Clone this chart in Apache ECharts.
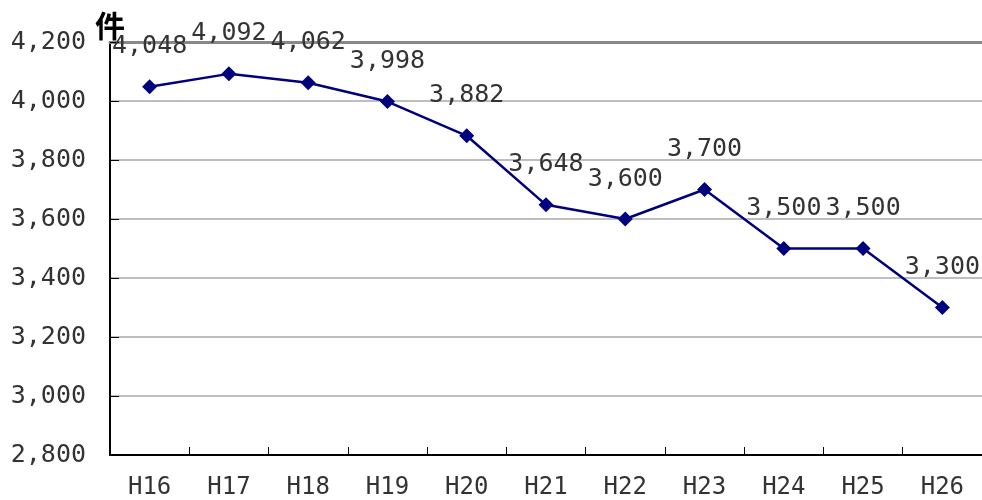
<!DOCTYPE html>
<html lang="ja">
<head>
<meta charset="UTF-8">
<title>件数推移</title>
<style>
    *{margin:0;padding:0;}
    body{background:#fff;}
    #main{width:982px;height:500px;}
</style>
</head>
<body>
<div id="main"></div>
<script src="https://cdn.jsdelivr.net/npm/echarts@6/dist/echarts.min.js"></script>
<script>
var years = ['H16','H17','H18','H19','H20','H21','H22','H23','H24','H25','H26'];
var counts = [4048,4092,4062,3998,3882,3648,3600,3700,3500,3500,3300];
var yMin = 2800;
var yMax = 4200;
var yStep = 200;

var monoFont = '"DejaVu Sans Mono", monospace';

function fmt(v){
    return String(v).replace(/\B(?=(\d{3})+(?!\d))/g, ',');
}

var myChart = echarts.init(document.getElementById('main'));
var option = {
    animation:false,
    grid:{left:110,right:0,top:42,bottom:45},
    xAxis:[{
        type:'category',
        data:years,
        boundaryGap:true,
        axisLine:{lineStyle:{color:'#000',width:2}},
        axisTick:{show:true,inside:true,length:8,alignWithLabel:false,lineStyle:{color:'#000',width:1}},
        axisLabel:{color:'#333',fontFamily:monoFont,fontSize:24,margin:21}
    },{
        type:'category',
        data:years,
        position:'top',
        axisLine:{lineStyle:{color:'#888',width:3}},
        axisTick:{show:false},
        axisLabel:{show:false}
    }],
    yAxis:{
        type:'value',
        min:yMin,
        max:yMax,
        interval:yStep,
        name:'件',
        nameLocation:'end',
        nameGap:1,
        nameTextStyle:{
            color:'#000',
            fontFamily:'"Noto Sans CJK JP"',
            fontSize:30,
            fontWeight:'bold',
            align:'center',
            verticalAlign:'bottom'
        },
        axisLine:{show:true,lineStyle:{color:'#000',width:2}},
        axisTick:{show:true,inside:true,length:9,lineStyle:{color:'#000',width:1}},
        splitLine:{show:true,lineStyle:{color:'#a8a8a8',width:1.5}},
        axisLabel:{
            color:'#333',
            fontFamily:monoFont,
            fontSize:25,
            margin:24,
            formatter:function(v){ return fmt(v); }
        }
    },
    series:[{
        type:'line',
        data:counts,
        symbol:'diamond',
        symbolSize:15,
        lineStyle:{color:'#00007f',width:2.5},
        itemStyle:{color:'#00007f'},
        label:{
            show:true,
            position:'top',
            distance:20,
            color:'#333',
            fontFamily:monoFont,
            fontSize:25,
            formatter:function(p){ return fmt(p.value); }
        }
    }]
};
myChart.setOption(option);
</script>
</body>
</html>
